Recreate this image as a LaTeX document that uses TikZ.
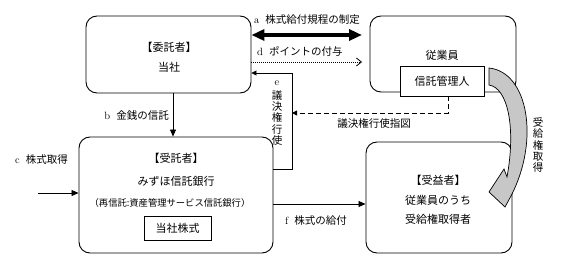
\documentclass[tikz,border=0pt]{standalone}
\usepackage{fontspec}
\newfontfamily\jp{Noto Sans CJK JP}
\usetikzlibrary{arrows.meta}
\begin{document}
\begin{tikzpicture}[x=1pt,y=-1pt,
  box/.style={draw,line width=0.9pt,rounded corners=11pt,inner sep=0pt},
  sq/.style={draw,line width=0.8pt,inner sep=0pt},
  lab/.style={font=\jp\fontsize{10.5}{12}\selectfont,inner sep=0pt},
  txt/.style={font=\jp\fontsize{11}{13}\selectfont,inner sep=0pt},
  small/.style={font=\jp\fontsize{9.3}{11}\selectfont,inner sep=0pt},
  vert/.style={font=\jp\fontsize{10.5}{11.3}\selectfont,inner sep=0pt,align=center},
  conn/.style={line width=0.8pt,-{Triangle[length=7pt,width=6pt]}},
]
\useasboundingbox (0,0) rectangle (564,259);
% boxes
\node[box,minimum width=165pt,minimum height=77pt] (itaku) at (168.5,54.5) {};
\node[box,minimum width=146pt,minimum height=76pt] (jugyo) at (443,54) {};
\node[sq,fill=white,minimum width=84pt,minimum height=30pt] (kanri) at (442,81) {};
\node[box,minimum width=194pt,minimum height=116pt] (jutaku) at (176,195) {};
\node[sq,minimum width=67pt,minimum height=24pt] (kabu) at (177.5,228) {};
\node[box,minimum width=146pt,minimum height=111pt] (jueki) at (439,197.5) {};
% box texts
\node[txt] (t1) at (169,47) {【委託者】};
\node[txt] (t2) at (169,67) {当社};
\node[txt] (t3) at (442,55) {従業員};
\node[txt] (t4) at (kanri.center) {信託管理人};
\node[txt] (t5) at (176,158) {【受託者】};
\node[txt] (t6) at (176,181) {みずほ信託銀行};
\node[small] (t7) at (170,203) {（再信託:資産管理サービス信託銀行）};
\node[txt] (t8) at (kabu.center) {当社株式};
\node[txt] (t9) at (438,180) {【受益者】};
\node[txt] (t10) at (438,200) {従業員のうち};
\node[txt] (t11) at (438,219) {受給権取得者};
% coordinates
\coordinate (aR) at (362,35);
\coordinate (dR) at (362,62);
\coordinate (eB) at (292,169);
\coordinate (eT) at (292,73);
\coordinate (gB) at (448,113);
\coordinate (bX) at (173,0);
\coordinate (cL) at (38,193);
\coordinate (fY) at (0,204);
% connectors
\draw[line width=3.6pt,{Triangle[length=13pt,width=11pt]}-{Triangle[length=13pt,width=11pt]}] (itaku.east |- aR) -- (aR);
\draw[line width=0.8pt,dash pattern=on 1pt off 1pt,-{Straight Barb[length=5pt,width=8pt]}] (itaku.east |- dR) -- (dR);
\draw[line width=0.8pt,-{Triangle[length=5pt,width=5pt]}] (jutaku.east |- eB) -- (eB) -- (eT) -- (itaku.east |- eT);
\draw[line width=0.8pt,dash pattern=on 5pt off 3pt,-{Triangle[length=5pt,width=5pt]}] (gB |- kanri.south) -- (gB) -- (eB |- gB);
\draw[conn] (itaku.south -| bX) -- (jutaku.north -| bX);
\draw[conn] (cL) -- (jutaku.west |- cL);
\draw[conn] (jutaku.east |- fY) -- (jueki.west |- fY);
% curved wide arrow
\draw[line width=0.7pt,fill=black!22,line join=miter]
  (489,68) .. controls (528,72) and (540,140) .. (511,196)
  -- (505,207) -- (489,192) -- (504,169) -- (507,177)
  .. controls (516,128) and (508,88) .. (489,85) -- cycle;
% labels
\node[lab,anchor=west] (la) at (254,20) {{\rmfamily a}\hspace{6pt}株式給付規程の制定};
\node[lab,anchor=west] (ld) at (257,51) {{\rmfamily d}\hspace{6pt}ポイントの付与};
\node[lab] (le) at (277,83) {{\rmfamily e}};
\node[vert] (le2) at (277,118) {議\\決\\権\\行\\使};
\node[lab] (lg) at (374,124) {議決権行使指図};
\node[lab,anchor=east] (lb) at (169,116) {{\rmfamily b}\hspace{6pt}金銭の信託};
\node[lab,anchor=west] (lc) at (15,160) {{\rmfamily c}\hspace{6pt}株式取得};
\node[lab,anchor=west] (lf) at (285,221) {{\rmfamily f}\hspace{6pt}株式の給付};
\node[vert] (lr) at (538,145) {受\\給\\権\\取\\得};
\end{tikzpicture}
\end{document}
